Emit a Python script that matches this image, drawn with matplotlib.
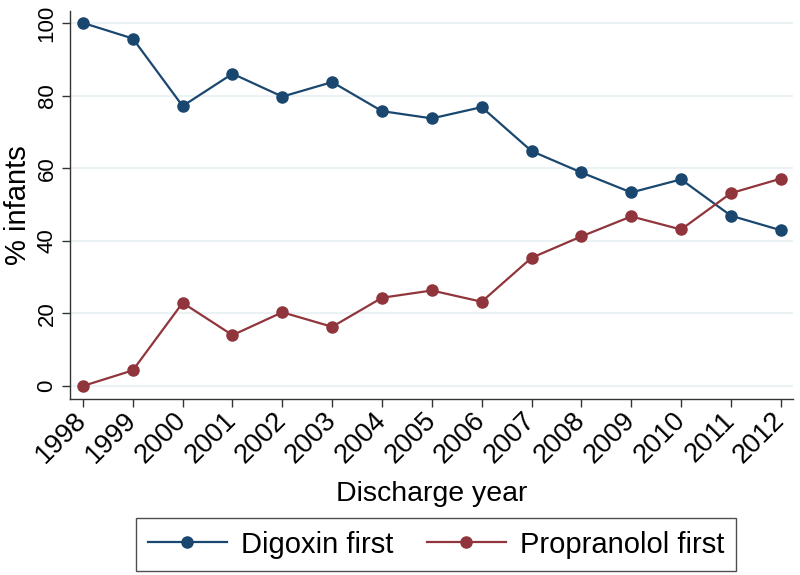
import matplotlib
matplotlib.use("Agg")
import matplotlib.pyplot as plt

years = [1998, 1999, 2000, 2001, 2002, 2003, 2004, 2005, 2006, 2007, 2008, 2009, 2010, 2011, 2012]
digoxin = [100, 95.7, 77.1, 86.0, 79.7, 83.7, 75.7, 73.7, 76.8, 64.7, 58.8, 53.3, 56.9, 46.9, 42.9]
propranolol = [0, 4.3, 22.9, 14.0, 20.3, 16.3, 24.3, 26.3, 23.2, 35.3, 41.2, 46.7, 43.1, 53.1, 57.1]
yticks = [0, 20, 40, 60, 80, 100]

plt.rcParams['font.family'] = ['Liberation Sans', 'DejaVu Sans']

fig = plt.figure(figsize=(8, 5.75), dpi=100)
ax = fig.add_axes([0.0875, 0.306, 0.904, 0.675])

navy = '#1a476f'
maroon = '#90353b'

ax.plot(years, digoxin, color=navy, marker='o', markersize=8, linewidth=1.6, label='Digoxin first', zorder=3)
ax.plot(years, propranolol, color=maroon, marker='o', markersize=8, linewidth=1.6, label='Propranolol first', zorder=3)

ax.set_xlim(1997.74, 2012.25)
ax.set_ylim(-3.6, 103.3)
ax.set_yticks(yticks)
ax.set_xticks(years)
ax.set_xticklabels([str(y) for y in years], rotation=45, ha='right', va='center',
                   rotation_mode='anchor', fontsize=19.5)
ax.set_yticklabels([str(v) for v in yticks], rotation=90, va='center', fontsize=16)
ax.tick_params(axis='both', length=6, width=1, color='#333333', pad=3)
ax.tick_params(axis='x', pad=6.5)

ax.grid(axis='y', color='#eaf2f3', linewidth=1.5, zorder=0)
ax.set_axisbelow(True)
for s in ['top', 'right']:
    ax.spines[s].set_visible(False)
for s in ['left', 'bottom']:
    ax.spines[s].set_color('#333333')
    ax.spines[s].set_linewidth(1)

ax.set_ylabel('% infants', fontsize=21)
ax.yaxis.set_label_coords(-0.052, 0.5)
ax.set_xlabel('Discharge year', fontsize=20.5)
ax.xaxis.set_label_coords(0.5, -0.212)

leg = fig.legend(loc='center', bbox_to_anchor=(0.545, 0.053), ncol=2, fontsize=21,
                 frameon=True, fancybox=False, edgecolor='#222222', numpoints=1,
                 handlelength=2.7, columnspacing=1.15, borderpad=0.42, handletextpad=0.48,
                 borderaxespad=0)
leg.get_frame().set_linewidth(1)

fig.savefig('out.png', dpi=100)
